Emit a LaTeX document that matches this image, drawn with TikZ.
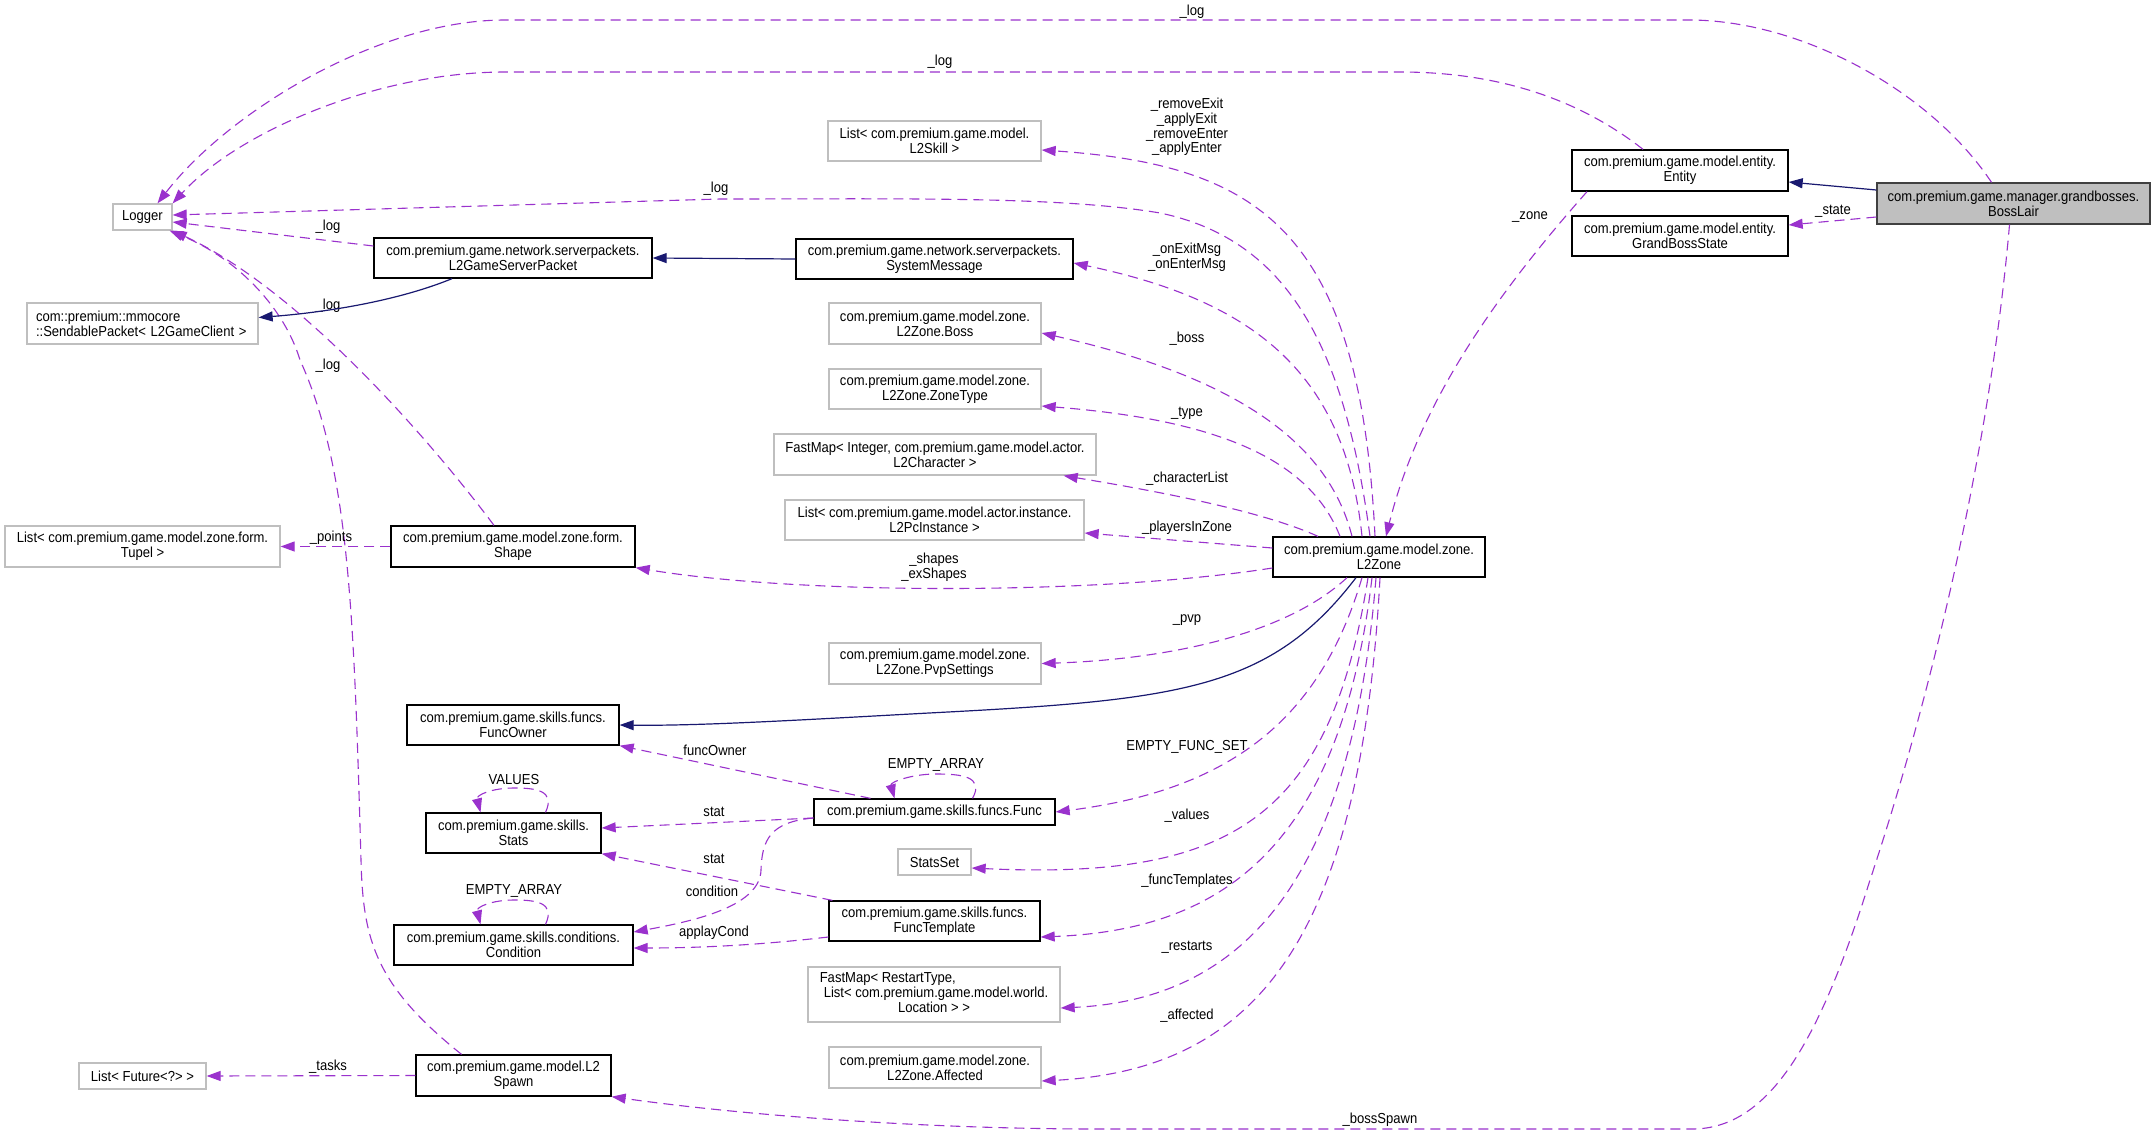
\documentclass[tikz,border=0pt]{standalone}
\usepackage{fontspec}
\setmainfont{Liberation Sans}[FakeStretch=0.9]
\usetikzlibrary{arrows.meta}
\definecolor{depc}{HTML}{9A32CD}
\definecolor{inhc}{HTML}{191970}
\definecolor{gbord}{HTML}{BFBFBF}
\begin{document}
\begin{tikzpicture}[x=1pt,y=-1pt,
  every node/.style={font=\fontsize{14.5}{14.8}\selectfont},
  cls/.style={draw=black, line width=1.3pt, fill=white, inner sep=0pt, align=center},
  ext/.style={cls, draw=gbord},
  dep/.style={draw=depc, line width=1.1pt, dash pattern=on 10pt off 6pt, -{Triangle[length=14pt,width=10pt]}},
  inh/.style={draw=inhc, line width=1.2pt, -{Triangle[length=14pt,width=10pt]}},
  lbl/.style={inner sep=0pt, align=center}]
\fill[white] (0,0) rectangle (2155,1132);
\useasboundingbox (0,0) rectangle (2155,1132);

% ---------- nodes ----------
\node[ext,minimum width=59pt,minimum height=26pt] (Logger) at (142.5,217) {Logger};
\node[ext,minimum width=231pt,minimum height=41pt,text width=213pt,align=left] (Sendable) at (142.5,323.5) {com::premium::mmocore\\::SendablePacket< L2GameClient >};
\node[cls,minimum width=278pt,minimum height=40pt] (GSP) at (513,258) {com.premium.game.network.serverpackets.\\L2GameServerPacket};
\node[cls,minimum width=277pt,minimum height=40pt] (SysMsg) at (934.5,259) {com.premium.game.network.serverpackets.\\SystemMessage};
\node[ext,minimum width=213pt,minimum height=40pt] (SkillList) at (934.5,141) {List< com.premium.game.model.\\L2Skill >};
\node[ext,minimum width=212pt,minimum height=41pt] (Boss) at (935,323.5) {com.premium.game.model.zone.\\L2Zone.Boss};
\node[ext,minimum width=212pt,minimum height=40pt] (ZoneType) at (935,389) {com.premium.game.model.zone.\\L2Zone.ZoneType};
\node[ext,minimum width=322pt,minimum height=41pt] (CharMap) at (935,454.5) {FastMap< Integer, com.premium.game.model.actor.\\L2Character >};
\node[ext,minimum width=299pt,minimum height=40pt] (PcList) at (934.5,520) {List< com.premium.game.model.actor.instance.\\L2PcInstance >};
\node[cls,minimum width=212pt,minimum height=40pt] (L2Zone) at (1379,557) {com.premium.game.model.zone.\\L2Zone};
\node[ext,minimum width=212pt,minimum height=41pt] (Pvp) at (935,663.5) {com.premium.game.model.zone.\\L2Zone.PvpSettings};
\node[cls,minimum width=241pt,minimum height=26pt] (Func) at (934.5,812) {com.premium.game.skills.funcs.Func};
\node[ext,minimum width=73pt,minimum height=26pt] (StatsSet) at (934.5,862) {StatsSet};
\node[cls,minimum width=211pt,minimum height=40pt] (FuncTpl) at (934.5,921) {com.premium.game.skills.funcs.\\FuncTemplate};
\node[ext,minimum width=252pt,minimum height=55pt] (RestartMap) at (934,994.5) {\begin{tabular}{@{}l@{}}FastMap< RestartType,\\\hspace*{4pt}List< com.premium.game.model.world.\\\multicolumn{1}{@{}c@{}}{Location > >}\end{tabular}};
\node[ext,minimum width=212pt,minimum height=41pt] (Affected) at (935,1067.5) {com.premium.game.model.zone.\\L2Zone.Affected};
\node[cls,minimum width=175pt,minimum height=40pt] (Stats) at (513.5,833) {com.premium.game.skills.\\Stats};
\node[cls,minimum width=239pt,minimum height=40pt] (Cond) at (513.5,945) {com.premium.game.skills.conditions.\\Condition};
\node[ext,minimum width=127pt,minimum height=26pt] (FutList) at (142.5,1076) {List< Future<?> >};
\node[cls,minimum width=195pt,minimum height=41pt] (Spawn) at (513.5,1075.5) {com.premium.game.model.L2\\Spawn};
\node[ext,minimum width=275pt,minimum height=41pt] (Tupel) at (142.5,546.5) {List< com.premium.game.model.zone.form.\\Tupel >};
\node[cls,minimum width=244pt,minimum height=41pt] (Shape) at (513,546.5) {com.premium.game.model.zone.form.\\Shape};
\node[cls,minimum width=212pt,minimum height=40pt] (FuncOwner) at (513,725) {com.premium.game.skills.funcs.\\FuncOwner};
\node[cls,minimum width=216pt,minimum height=41pt] (Entity) at (1680,170.5) {com.premium.game.model.entity.\\Entity};
\node[cls,minimum width=216pt,minimum height=40pt] (GBState) at (1680,236) {com.premium.game.model.entity.\\GrandBossState};
\node[cls,fill=gbord,draw=black!75,minimum width=273pt,minimum height=41pt] (BossLair) at (2013.5,203.5) {com.premium.game.manager.grandbosses.\\BossLair};

% ---------- connectors ----------
% _log edges to Logger
\draw[dep] ([xshift=-22pt]BossLair.north) .. controls (1930,90) and (1800,20) .. (1689,20) -- (505,20) .. controls (380,20) and (230,110) .. ([xshift=15pt]Logger.north);
\node[lbl] (lg1) at (1192,12) {\_log};
\draw[dep] ([xshift=-37pt]Entity.north) .. controls (1580,100) and (1500,72) .. (1400,72) -- (505,72) .. controls (380,72) and (240,130) .. (Logger.north east);
\node[lbl] (lg2) at (940,62) {\_log};
\draw[dep] ([xshift=-9pt]L2Zone.north) .. controls (1345,350) and (1290,240) .. (1160,213) .. controls (1060,196) and (900,199) .. (720,199) -- ([yshift=2pt]Logger.east);
\node[lbl] (lg3) at (716,189) {\_log};
\draw[dep] ([yshift=12pt]GSP.west) -- ([yshift=-5pt]Logger.east);
\node[lbl] (lg4) at (328,227) {\_log};
\draw[dep] ([xshift=-19pt]Shape.north) .. controls (430,440) and (300,290) .. (Logger.south east);
\node[lbl] (lg5) at (328,306) {\_log};
\draw[dep] ([xshift=-52pt]Spawn.north) .. controls (375,985) and (363,940) .. (361,860) .. controls (354,620) and (350,470) .. (300,360) .. controls (285,310) and (240,260) .. ([xshift=-3pt]Logger.south east);
\node[lbl] (lg6) at (328,366) {\_log};

% inheritance
\draw[inh] ([xshift=-61pt]GSP.south) .. controls (400,300) and (330,312) .. ([yshift=6pt]Sendable.east);
\draw[inh] (SysMsg.west) -- (GSP.east);
\draw[inh] ([yshift=13.5pt]BossLair.west) -- ([yshift=-11.5pt]Entity.east);
\draw[inh] ([xshift=-23pt]L2Zone.south) .. controls (1270,690) and (1180,700) .. (929,713) .. controls (800,720) and (700,726) .. (FuncOwner.east);

% BossLair
\draw[dep] ([yshift=-13.5pt]BossLair.west) -- ([yshift=11pt]GBState.east);
\node[lbl] (lstate) at (1833,211) {\_state};
\draw[dep] ([xshift=-93pt]Entity.south) .. controls (1500,290) and (1420,400) .. ([xshift=7pt]L2Zone.north);
\node[lbl] (lzone) at (1530,217) {\_zone};
\draw[dep] ([xshift=-4pt]BossLair.south) .. controls (1990,450) and (1930,700) .. (1870,880) .. controls (1820,1040) and (1770,1129) .. (1692,1129) -- (1100,1129) .. controls (900,1129) and (720,1112) .. (Spawn.south east);
\node[lbl] (lboss) at (1380,1120) {\_bossSpawn};

% L2Zone members (top)
\draw[dep] ([xshift=-4pt]L2Zone.north) .. controls (1360,230) and (1260,165) .. ([yshift=-9pt]SkillList.east);
\node[lbl] (lskill) at (1187,127) {\_removeExit\\\_applyExit\\\_removeEnter\\\_applyEnter};
\draw[dep] ([xshift=-17pt]L2Zone.north) .. controls (1345,370) and (1250,300) .. ([yshift=-4pt]SysMsg.east);
\node[lbl] (lmsg) at (1187,257) {\_onExitMsg\\\_onEnterMsg};
\draw[dep] ([xshift=-27pt]L2Zone.north) .. controls (1330,450) and (1250,380) .. ([yshift=-9.5pt]Boss.east);
\node[lbl] (lbossz) at (1187,339) {\_boss};
\draw[dep] ([xshift=-39pt]L2Zone.north) .. controls (1310,460) and (1220,420) .. ([yshift=-17pt]ZoneType.east);
\node[lbl] (ltype) at (1187,413) {\_type};
\draw[dep] ([xshift=-61pt]L2Zone.north) .. controls (1260,510) and (1150,490) .. ([xshift=-33pt]CharMap.south east);
\node[lbl] (lchar) at (1187,479) {\_characterList};
\draw[dep] ([yshift=9pt]L2Zone.west) -- ([yshift=-13pt]PcList.east);
\node[lbl] (lpc) at (1187,528) {\_playersInZone};
\draw[dep] ([yshift=-11pt]L2Zone.west) .. controls (1100,595) and (800,595) .. (Shape.south east);
\node[lbl] (lshape) at (934,567) {\_shapes\\\_exShapes};

% L2Zone members (bottom)
\draw[dep] ([xshift=-32pt]L2Zone.south) .. controls (1280,640) and (1150,660) .. (Pvp.east);
\node[lbl] (lpvp) at (1187,620) {\_pvp};
\draw[dep] ([xshift=-17pt]L2Zone.south) .. controls (1320,720) and (1230,790) .. (Func.east);
\node[lbl] (lefs) at (1187,747) {EMPTY\_FUNC\_SET};
\draw[dep] ([xshift=-11pt]L2Zone.south) .. controls (1330,820) and (1230,880) .. ([yshift=-6pt]StatsSet.east);
\node[lbl] (lval) at (1187,816) {\_values};
\draw[dep] ([xshift=-7pt]L2Zone.south) .. controls (1340,850) and (1220,930) .. ([yshift=-16pt]FuncTpl.east);
\node[lbl] (lft) at (1187,881) {\_funcTemplates};
\draw[dep] ([xshift=-3pt]L2Zone.south) .. controls (1350,900) and (1230,1000) .. ([yshift=-13.5pt]RestartMap.east);
\node[lbl] (lres) at (1187,947) {\_restarts};
\draw[dep] ([xshift=1pt]L2Zone.south) .. controls (1360,950) and (1250,1070) .. ([yshift=-13.5pt]Affected.east);
\node[lbl] (laff) at (1187,1016) {\_affected};

% Func / Stats / Condition
\draw[dep] ([xshift=-64pt]Func.north) -- (FuncOwner.south east);
\node[lbl] (lfo) at (715,750) {funcOwner};
\draw[dep] ([xshift=38pt]Func.north) .. controls (985,776) and (960,774) .. (936,774) .. controls (912,774) and (890,782) .. ([xshift=-40pt]Func.north);
\node[lbl] (lea1) at (936,765) {EMPTY\_ARRAY};
\draw[dep] ([yshift=-6pt]Func.west) -- ([yshift=5pt]Stats.east);
\node[lbl] (lst1) at (714,812) {stat};
\draw[dep] ([yshift=-6pt]Func.west) .. controls (770,822) and (762,840) .. (761,870) .. controls (760,905) and (700,920) .. ([yshift=13pt]Cond.east);
\node[lbl] (lcond) at (712,891) {condition};
\draw[dep] ([xshift=4pt]FuncTpl.north west) -- (Stats.south east);
\node[lbl] (lst2) at (714,859) {stat};
\draw[dep] ([yshift=-16pt]FuncTpl.west) .. controls (760,945) and (700,948) .. ([yshift=-3pt]Cond.east);
\node[lbl] (lapc) at (714,933) {applayCond};
\draw[dep] ([xshift=32pt]Stats.north) .. controls (556,790) and (535,788) .. (514,788) .. controls (492,788) and (476,795) .. ([xshift=-33pt]Stats.north);
\node[lbl] (lvals) at (514,779) {VALUES};
\draw[dep] ([xshift=32pt]Cond.north) .. controls (556,902) and (535,900) .. (514,900) .. controls (492,900) and (476,907) .. ([xshift=-33pt]Cond.north);
\node[lbl] (lea2) at (514,891) {EMPTY\_ARRAY};

% left column
\draw[dep] (Shape.west) -- (Tupel.east);
\node[lbl] (lpts) at (331,538) {\_points};
\draw[dep] (Spawn.west) -- (FutList.east);
\node[lbl] (ltask) at (328,1067) {\_tasks};
\end{tikzpicture}
\end{document}
